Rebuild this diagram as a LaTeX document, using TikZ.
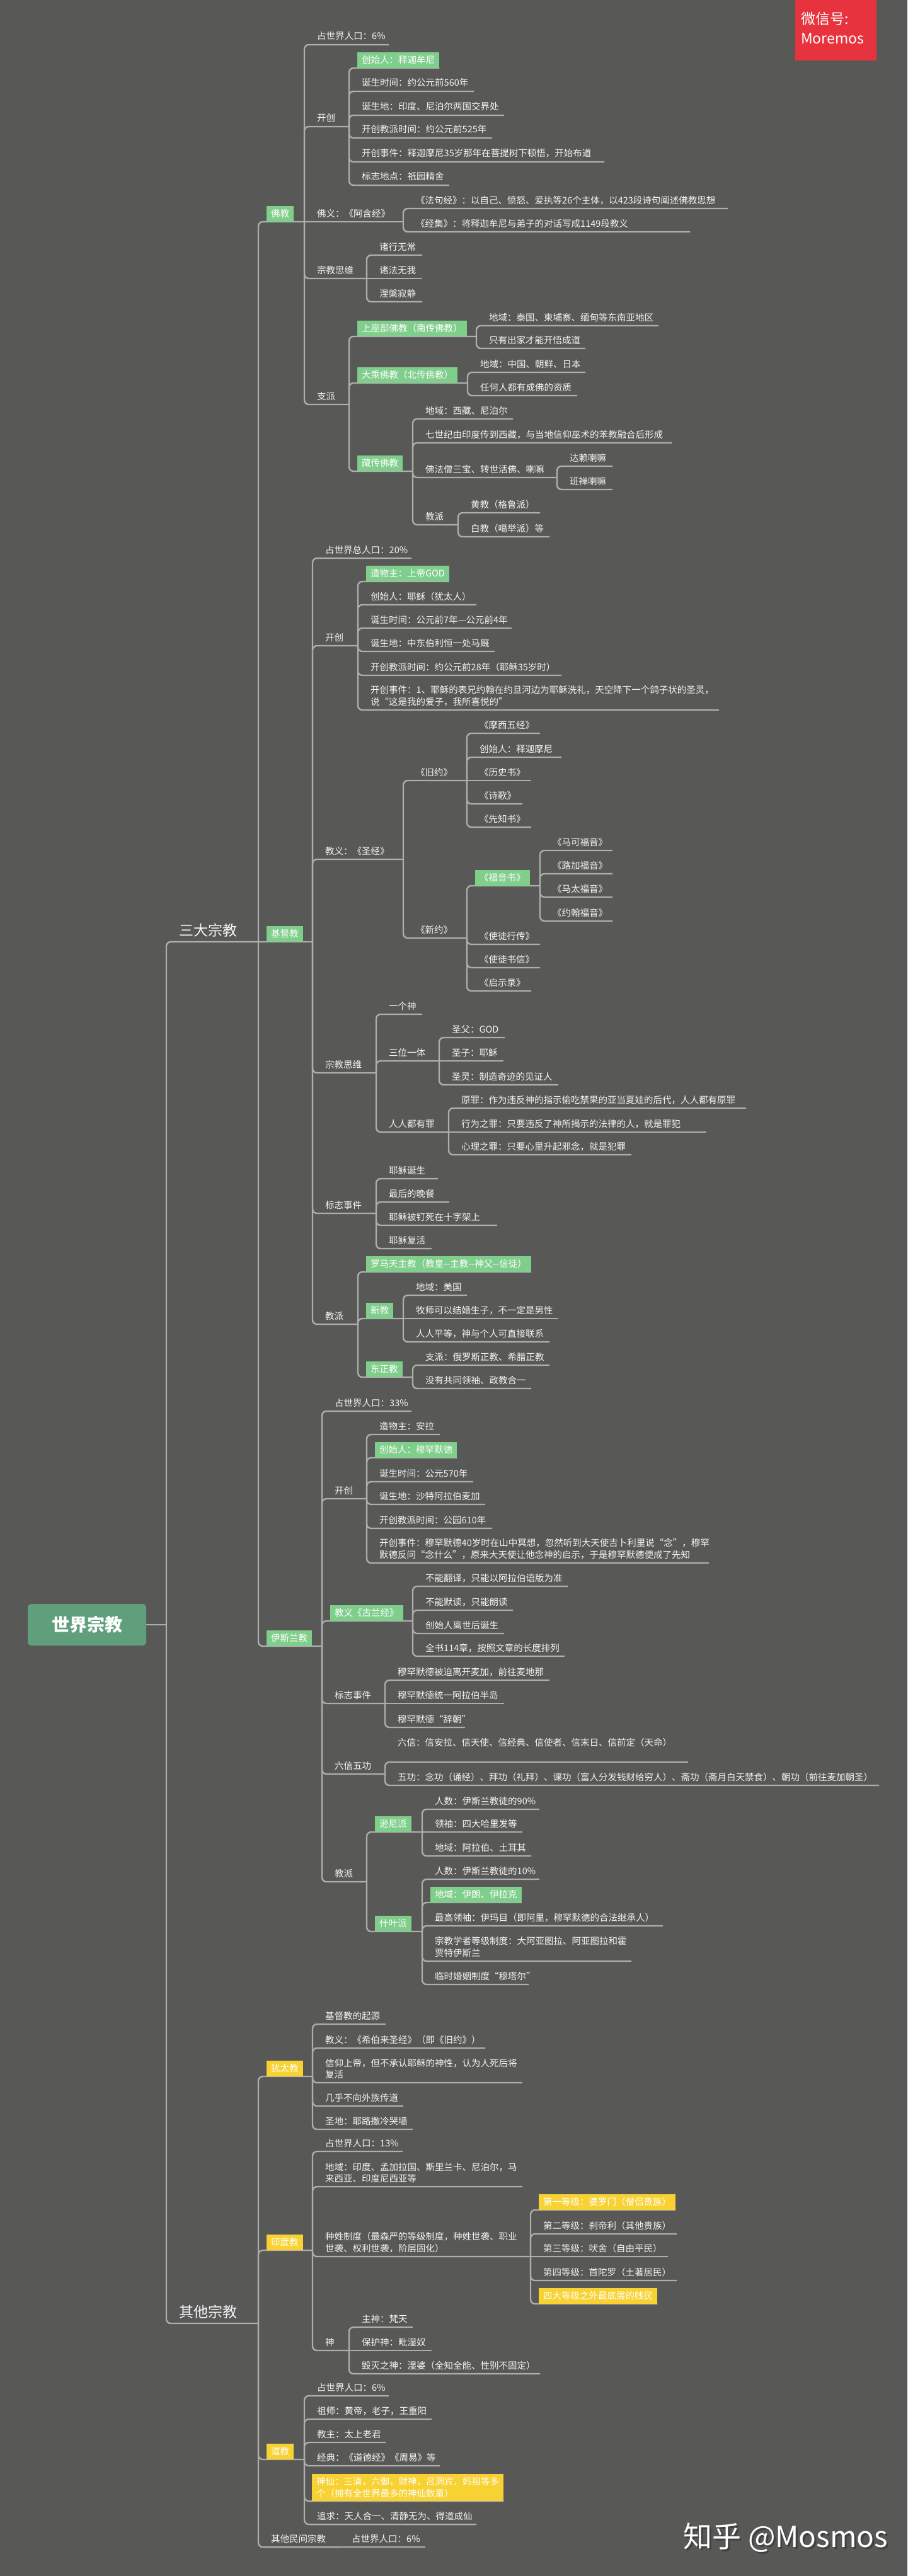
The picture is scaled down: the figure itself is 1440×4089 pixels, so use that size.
\documentclass[tikz,border=0pt]{standalone}
\usepackage{fontspec}
\setmainfont{Noto Sans CJK SC}
\pgfdeclarelayer{bg}
\pgfdeclarelayer{lines}
\pgfsetlayers{bg,lines,main}
\definecolor{bgc}{HTML}{585957}
\definecolor{linec}{HTML}{AEAEAC}
\definecolor{txtc}{HTML}{F4F4F4}
\definecolor{greenc}{HTML}{80CE8B}
\definecolor{yellowc}{HTML}{F7D232}
\definecolor{rootc}{HTML}{5F9F7B}
\definecolor{redc}{HTML}{E7333D}
\tikzset{
  txt/.style={text=txtc, font=\fontsize{14.5}{18.5}\selectfont, inner sep=0pt},
  boxs/.style={txt, text=white, inner xsep=7pt, inner ysep=0pt, minimum height=25pt},
  conn/.style={draw=linec, line width=2.4pt, rounded corners=7pt},
  bigtxt/.style={text=txtc, font=\fontsize{23}{26}\selectfont, inner sep=0pt}
}
\newcommand\tnode[5]{\node[txt,anchor=base west] (#1) at (#2+20,#3-8) {#5};\coordinate (#1-r) at (#4,#3);}
\newcommand\mnode[5]{\node[txt,anchor=south west,align=left] (#1) at (#2+20,#3-6) {#5};\coordinate (#1-r) at (#4,#3);}
\newcommand\bnode[5]{\node[boxs,fill=#4,anchor=south west] (#1) at (#2+13,#3) {#5};\coordinate (#1-r) at (#1.south east);}
\newcommand\bpnode[6]{\node[boxs,fill=#5,anchor=south west] (#1) at (#2+13,#3) {#6};\coordinate (#1-r) at (#4,#3);}
\newcommand\lk[2]{\begin{pgfonlayer}{lines}\draw[conn] (#1-r) |- (#2-r);\end{pgfonlayer}}
\newcommand\lks[2]{\begin{pgfonlayer}{lines}\draw[conn] (#1-r) -- (#2-r);\end{pgfonlayer}}
\begin{document}
\begin{tikzpicture}[x=1pt,y=-1pt]
\useasboundingbox (0,0) rectangle (1440,4089);
\begin{pgfonlayer}{bg}\fill[bgc] (0,0) rectangle (1440,4089);\end{pgfonlayer}

% watermark top
\node[fill=redc, minimum width=129pt, minimum height=96pt, anchor=north west, inner sep=0pt] (wm) at (1262,0) {};
\node[text=white, font=\fontsize{23}{26}\selectfont, anchor=base west, inner sep=0pt] (wm1) at (1271,39) {微信号:};
\node[text=white, font=\fontsize{23}{26}\selectfont, anchor=base west, inner sep=0pt] (wm2) at (1271,70) {Moremos};

% root
\node[fill=rootc, rounded corners=6pt, minimum width=188pt, minimum height=66pt, text=white, font=\fontsize{28}{30}\selectfont\bfseries] (root) at (138,2579) {世界宗教};
\coordinate (rj) at (264,2579);
\node[bigtxt, anchor=base west] (sd) at (284,1485) {三大宗教};
\coordinate (sd-r) at (410,1495);
\node[bigtxt, anchor=base west] (qt) at (284,3678) {其他宗教};
\coordinate (qt-r) at (410,3688);
\begin{pgfonlayer}{lines}
\draw[conn] (root.east) -- (rj);
\draw[conn] (rj) |- (sd-r);
\draw[conn] (rj) |- (qt-r);
\end{pgfonlayer}

% ===== 佛教
\bpnode{fo}{410}{352}{483}{greenc}{佛教}
\tnode{fo1}{483}{71}{617}{占世界人口：6\%}
\tnode{fo2}{483}{201}{554}{开创}
\bnode{fo2a}{554}{108}{greenc}{创始人：释迦牟尼}
\tnode{fo2b}{554}{145}{752}{诞生时间：约公元前560年}
\tnode{fo2c}{554}{183}{800}{诞生地：印度、尼泊尔两国交界处}
\tnode{fo2d}{554}{219}{781}{开创教派时间：约公元前525年}
\tnode{fo2e}{554}{257}{959}{开创事件：释迦摩尼35岁那年在菩提树下顿悟，开始布道}
\tnode{fo2f}{554}{294}{713}{标志地点：祇园精舍}
\tnode{fo3}{483}{352}{640}{佛义：《阿含经》}
\tnode{fo3a}{640}{331}{1155}{《法句经》：以自己、愤怒、爱执等26个主体，以423段诗句阐述佛教思想}
\tnode{fo3b}{640}{368}{1095}{《经集》：将释迦牟尼与弟子的对话写成1149段教义}
\tnode{fo4}{483}{442}{582}{宗教思维}
\tnode{fo4a}{582}{405}{670}{诸行无常}
\tnode{fo4b}{582}{442}{670}{诸法无我}
\tnode{fo4c}{582}{479}{670}{涅槃寂静}
\tnode{fo5}{483}{642}{554}{支派}
\bpnode{fo5a}{554}{534}{756}{greenc}{上座部佛教（南传佛教）}
\tnode{fo5a1}{756}{517}{1045}{地域：泰国、柬埔寨、缅甸等东南亚地区}
\tnode{fo5a2}{756}{553}{929}{只有出家才能开悟成道}
\bpnode{fo5b}{554}{608}{742}{greenc}{大乘佛教（北传佛教）}
\tnode{fo5b1}{742}{591}{929}{地域：中国、朝鲜、日本}
\tnode{fo5b2}{742}{628}{916}{任何人都有成佛的资质}
\bpnode{fo5c}{554}{748}{655}{greenc}{藏传佛教}
\tnode{fo5c1}{655}{665}{814}{地域：西藏、尼泊尔}
\tnode{fo5c2}{655}{703}{1066}{七世纪由印度传到西藏，与当地信仰巫术的苯教融合后形成}
\tnode{fo5c3}{655}{758}{884}{佛法僧三宝、转世活佛、喇嘛}
\tnode{fo5c3a}{884}{740}{972}{达赖喇嘛}
\tnode{fo5c3b}{884}{777}{972}{班禅喇嘛}
\tnode{fo5c4}{655}{833}{727}{教派}
\tnode{fo5c4a}{727}{814}{857}{黄教（格鲁派）}
\tnode{fo5c4b}{727}{852}{872}{白教（噶举派）等}

\lk{sd}{fo}
\lk{fo}{fo1}\lk{fo}{fo2}\lks{fo}{fo3}\lk{fo}{fo4}\lk{fo}{fo5}
\lk{fo2}{fo2a}\lk{fo2}{fo2b}\lk{fo2}{fo2c}\lk{fo2}{fo2d}\lk{fo2}{fo2e}\lk{fo2}{fo2f}
\lk{fo3}{fo3a}\lk{fo3}{fo3b}
\lk{fo4}{fo4a}\lks{fo4}{fo4b}\lk{fo4}{fo4c}
\lk{fo5}{fo5a}\lk{fo5}{fo5b}\lk{fo5}{fo5c}
\lk{fo5a}{fo5a1}\lk{fo5a}{fo5a2}
\lk{fo5b}{fo5b1}\lk{fo5b}{fo5b2}
\lk{fo5c}{fo5c1}\lk{fo5c}{fo5c2}\lk{fo5c}{fo5c3}\lk{fo5c}{fo5c4}
\lk{fo5c3}{fo5c3a}\lk{fo5c3}{fo5c3b}
\lk{fo5c4}{fo5c4a}\lk{fo5c4}{fo5c4b}

% ===== 基督教
\bpnode{jd}{410}{1495}{496}{greenc}{基督教}
\tnode{jd1}{496}{886}{653}{占世界总人口：20\%}
\tnode{jd2}{496}{1025}{568}{开创}
\bnode{jd2a}{568}{923}{greenc}{造物主：上帝GOD}
\tnode{jd2b}{568}{960}{756}{创始人：耶稣（犹太人）}
\tnode{jd2c}{568}{997}{812}{诞生时间：公元前7年—公元前4年}
\tnode{jd2d}{568}{1034}{785}{诞生地：中东伯利恒一处马厩}
\tnode{jd2e}{568}{1072}{891}{开创教派时间：约公元前28年（耶稣35岁时）}
\mnode{jd2f}{568}{1127}{1141}{开创事件：1、耶稣的表兄约翰在约旦河边为耶稣洗礼，天空降下一个鸽子状的圣灵，\\说“这是我的爱子，我所喜悦的”}
\tnode{jd3}{496}{1364}{640}{教义：《圣经》}
\tnode{jd3a}{640}{1239}{741}{《旧约》}
\tnode{jd3a1}{741}{1164}{857}{《摩西五经》}
\tnode{jd3a2}{741}{1202}{891}{创始人：释迦摩尼}
\tnode{jd3a3}{741}{1239}{843}{《历史书》}
\tnode{jd3a4}{741}{1276}{829}{《诗歌》}
\tnode{jd3a5}{741}{1313}{843}{《先知书》}
\tnode{jd3b}{640}{1489}{741}{《新约》}
\bpnode{jd3b1}{741}{1406}{857}{greenc}{《福音书》}
\tnode{jd3b1a}{857}{1350}{972}{《马可福音》}
\tnode{jd3b1b}{857}{1387}{972}{《路加福音》}
\tnode{jd3b1c}{857}{1424}{972}{《马太福音》}
\tnode{jd3b1d}{857}{1462}{972}{《约翰福音》}
\tnode{jd3b2}{741}{1499}{857}{《使徒行传》}
\tnode{jd3b3}{741}{1536}{857}{《使徒书信》}
\tnode{jd3b4}{741}{1573}{843}{《启示录》}
\tnode{jd4}{496}{1703}{597}{宗教思维}
\tnode{jd4a}{597}{1610}{670}{一个神}
\tnode{jd4b}{597}{1684}{697}{三位一体}
\tnode{jd4b1}{697}{1647}{801}{圣父：GOD}
\tnode{jd4b2}{697}{1684}{799}{圣子：耶稣}
\tnode{jd4b3}{697}{1722}{886}{圣灵：制造奇迹的见证人}
\tnode{jd4c}{597}{1797}{712}{人人都有罪}
\tnode{jd4c1}{712}{1759}{1184}{原罪：作为违反神的指示偷吃禁果的亚当夏娃的后代，人人都有原罪}
\tnode{jd4c2}{712}{1797}{1121}{行为之罪：只要违反了神所揭示的法律的人，就是罪犯}
\tnode{jd4c3}{712}{1833}{1002}{心理之罪：只要心里升起邪念，就是犯罪}
\tnode{jd5}{496}{1926}{597}{标志事件}
\tnode{jd5a}{597}{1871}{695}{耶稣诞生}
\tnode{jd5b}{597}{1908}{713}{最后的晚餐}
\tnode{jd5c}{597}{1945}{789}{耶稣被钉死在十字架上}
\tnode{jd5d}{597}{1982}{685}{耶稣复活}
\tnode{jd6}{496}{2102}{568}{教派}
\bnode{jd6a}{568}{2019}{greenc}{罗马天主教（教皇-{}-主教-{}-神父-{}-信徒）}
\bpnode{jd6b}{568}{2093}{640}{greenc}{新教}
\tnode{jd6b1}{640}{2056}{741}{地域：美国}
\tnode{jd6b2}{640}{2093}{886}{牧师可以结婚生子，不一定是男性}
\tnode{jd6b3}{640}{2130}{872}{人人平等，神与个人可直接联系}
\bpnode{jd6c}{568}{2186}{655}{greenc}{东正教}
\tnode{jd6c1}{655}{2167}{872}{支派：俄罗斯正教、希腊正教}
\tnode{jd6c2}{655}{2204}{843}{没有共同领袖、政教合一}

\lks{sd}{jd}
\lk{jd}{jd1}\lk{jd}{jd2}\lk{jd}{jd3}\lk{jd}{jd4}\lk{jd}{jd5}\lk{jd}{jd6}
\lk{jd2}{jd2a}\lk{jd2}{jd2b}\lk{jd2}{jd2c}\lk{jd2}{jd2d}\lk{jd2}{jd2e}\lk{jd2}{jd2f}
\lk{jd3}{jd3a}\lk{jd3}{jd3b}
\lk{jd3a}{jd3a1}\lk{jd3a}{jd3a2}\lks{jd3a}{jd3a3}\lk{jd3a}{jd3a4}\lk{jd3a}{jd3a5}
\lk{jd3b}{jd3b1}\lk{jd3b}{jd3b2}\lk{jd3b}{jd3b3}\lk{jd3b}{jd3b4}
\lk{jd3b1}{jd3b1a}\lk{jd3b1}{jd3b1b}\lk{jd3b1}{jd3b1c}\lk{jd3b1}{jd3b1d}
\lk{jd4}{jd4a}\lk{jd4}{jd4b}\lk{jd4}{jd4c}
\lk{jd4b}{jd4b1}\lks{jd4b}{jd4b2}\lk{jd4b}{jd4b3}
\lk{jd4c}{jd4c1}\lks{jd4c}{jd4c2}\lk{jd4c}{jd4c3}
\lk{jd5}{jd5a}\lk{jd5}{jd5b}\lk{jd5}{jd5c}\lk{jd5}{jd5d}
\lk{jd6}{jd6a}\lk{jd6}{jd6b}\lk{jd6}{jd6c}
\lk{jd6b}{jd6b1}\lks{jd6b}{jd6b2}\lk{jd6b}{jd6b3}
\lk{jd6c}{jd6c1}\lk{jd6c}{jd6c2}

% ===== 伊斯兰教
\bpnode{ys}{410}{2613}{511}{greenc}{伊斯兰教}
\tnode{ys1}{511}{2240}{653}{占世界人口：33\%}
\tnode{ys2}{511}{2379}{582}{开创}
\tnode{ys2a}{582}{2277}{698}{造物主：安拉}
\bnode{ys2b}{582}{2314}{greenc}{创始人：穆罕默德}
\tnode{ys2c}{582}{2352}{751}{诞生时间：公元570年}
\tnode{ys2d}{582}{2388}{770}{诞生地：沙特阿拉伯麦加}
\tnode{ys2e}{582}{2426}{781}{开创教派时间：公园610年}
\mnode{ys2f}{582}{2481}{1125}{开创事件：穆罕默德40岁时在山中冥想，忽然听到大天使吉卜利里说“念”，穆罕\\默德反问“念什么”，原来大天使让他念神的启示，于是穆罕默德便成了先知}
\bpnode{ys3}{511}{2573}{655}{greenc}{教义《古兰经》}
\tnode{ys3a}{655}{2518}{901}{不能翻译，只能以阿拉伯语版为准}
\tnode{ys3b}{655}{2556}{814}{不能默读，只能朗读}
\tnode{ys3c}{655}{2593}{800}{创始人离世后诞生}
\tnode{ys3d}{655}{2629}{896}{全书114章，按照文章的长度排列}
\tnode{ys4}{511}{2704}{611}{标志事件}
\tnode{ys4a}{611}{2667}{872}{穆罕默德被迫离开麦加，前往麦地那}
\tnode{ys4b}{611}{2704}{800}{穆罕默德统一阿拉伯半岛}
\tnode{ys4c}{611}{2742}{738}{穆罕默德“辞朝”}
\tnode{ys5}{511}{2816}{611}{六信五功}
\node[txt,anchor=base west] (ys5a) at (631,2771) {六信：信安拉、信天使、信经典、信使者、信末日、信前定（天命）};
\coordinate (ys5a-r) at (1092,2797);
\tnode{ys5b}{611}{2834}{1395}{五功：念功（诵经）、拜功（礼拜）、课功（富人分发钱财给穷人）、斋功（斋月白天禁食）、朝功（前往麦加朝圣）}
\tnode{ys6}{511}{2987}{582}{教派}
\bpnode{ys6a}{582}{2908}{670}{greenc}{逊尼派}
\tnode{ys6a1}{670}{2872}{856}{人数：伊斯兰教徒的90\%}
\tnode{ys6a2}{670}{2908}{829}{领袖：四大哈里发等}
\tnode{ys6a3}{670}{2946}{843}{地域：阿拉伯、土耳其}
\bpnode{ys6b}{582}{3066}{670}{greenc}{什叶派}
\tnode{ys6b1}{670}{2983}{856}{人数：伊斯兰教徒的10\%}
\bnode{ys6b2}{670}{3020}{greenc}{地域：伊朗、伊拉克}
\tnode{ys6b3}{670}{3057}{1052}{最高领袖：伊玛目（即阿里，穆罕默德的合法继承人）}
\mnode{ys6b4}{670}{3113}{1002}{宗教学者等级制度：大阿亚图拉、阿亚图拉和霍\\贾特伊斯兰}
\tnode{ys6b5}{670}{3150}{839}{临时婚姻制度“穆塔尔”}

\lk{sd}{ys}
\lk{ys}{ys1}\lk{ys}{ys2}\lk{ys}{ys3}\lk{ys}{ys4}\lk{ys}{ys5}\lk{ys}{ys6}
\lk{ys2}{ys2a}\lk{ys2}{ys2b}\lk{ys2}{ys2c}\lk{ys2}{ys2d}\lk{ys2}{ys2e}\lk{ys2}{ys2f}
\lk{ys3}{ys3a}\lk{ys3}{ys3b}\lk{ys3}{ys3c}\lk{ys3}{ys3d}
\lk{ys4}{ys4a}\lks{ys4}{ys4b}\lk{ys4}{ys4c}
\lk{ys5}{ys5a}\lk{ys5}{ys5b}
\lk{ys6}{ys6a}\lk{ys6}{ys6b}
\lk{ys6a}{ys6a1}\lks{ys6a}{ys6a2}\lk{ys6a}{ys6a3}
\lk{ys6b}{ys6b1}\lk{ys6b}{ys6b2}\lk{ys6b}{ys6b3}\lk{ys6b}{ys6b4}\lk{ys6b}{ys6b5}

% ===== 其他宗教
\bpnode{yt}{410}{3296}{496}{yellowc}{犹太教}
\tnode{yt1}{496}{3213}{612}{基督教的起源}
\tnode{yt2}{496}{3251}{770}{教义：《希伯来圣经》（即《旧约》）}
\mnode{yt3}{496}{3306}{829}{信仰上帝，但不承认耶稣的神性，认为人死后将\\复活}
\tnode{yt4}{496}{3343}{640}{几乎不向外族传道}
\tnode{yt5}{496}{3380}{655}{圣地：耶路撒冷哭墙}
\bpnode{yd}{410}{3572}{496}{yellowc}{印度教}
\tnode{yd1}{496}{3415}{639}{占世界人口：13\%}
\mnode{yd2}{496}{3471}{829}{地域：印度、孟加拉国、斯里兰卡、尼泊尔，马\\来西亚、印度尼西亚等}
\mnode{yd3}{496}{3582}{842}{种姓制度（最森严的等级制度，种姓世袭、职业\\世袭、权利世袭，阶层固化）}
\bnode{yd3a}{842}{3508}{yellowc}{第一等级：婆罗门（僧侣贵族）}
\tnode{yd3b}{842}{3546}{1074}{第二等级：刹帝利（其他贵族）}
\tnode{yd3c}{842}{3582}{1060}{第三等级：吠舍（自由平民）}
\tnode{yd3d}{842}{3620}{1074}{第四等级：首陀罗（土著居民）}
\bnode{yd3e}{842}{3657}{yellowc}{四大等级之外最底层的贱民}
\tnode{yd4}{496}{3731}{554}{神}
\tnode{yd4a}{554}{3694}{655}{主神：梵天}
\tnode{yd4b}{554}{3731}{685}{保护神：毗湿奴}
\tnode{yd4c}{554}{3768}{857}{毁灭之神：湿婆（全知全能、性别不固定）}
\bpnode{dj}{410}{3904}{483}{yellowc}{道教}
\tnode{dj1}{483}{3803}{617}{占世界人口：6\%}
\tnode{dj2}{483}{3840}{685}{祖师：黄帝，老子，王重阳}
\tnode{dj3}{483}{3877}{612}{教主：太上老君}
\tnode{dj4}{483}{3914}{698}{经典：《道德经》《周易》等}
\node[boxs, fill=yellowc, anchor=south west, align=left, minimum height=43pt] (dj5) at (495,3970) {神仙：三清，六御，财神，吕洞宾，妈祖等多\\个（拥有全世界最多的神仙数量）};
\coordinate (dj5-r) at (dj5.south east);
\tnode{dj6}{483}{4007}{756}{追求：天人合一、清静无为、得道成仙}
\tnode{qm}{410}{4043}{538}{其他民间宗教}
\tnode{qm1}{538}{4043}{675}{占世界人口：6\%}

\lk{qt}{yt}\lk{qt}{yd}\lk{qt}{dj}\lk{qt}{qm}
\lk{yt}{yt1}\lk{yt}{yt2}\lk{yt}{yt3}\lk{yt}{yt4}\lk{yt}{yt5}
\lk{yd}{yd1}\lk{yd}{yd2}\lk{yd}{yd3}\lk{yd}{yd4}
\lk{yd3}{yd3a}\lk{yd3}{yd3b}\lks{yd3}{yd3c}\lk{yd3}{yd3d}\lk{yd3}{yd3e}
\lk{yd4}{yd4a}\lks{yd4}{yd4b}\lk{yd4}{yd4c}
\lk{dj}{dj1}\lk{dj}{dj2}\lk{dj}{dj3}\lk{dj}{dj4}\lk{dj}{dj5}\lk{dj}{dj6}
\lks{qm}{qm1}

% watermark bottom
\node[text=black!75, font=\fontsize{46}{50}\selectfont, inner sep=0pt] (zhs) at (1250,4031) {知乎 @Mosmos};
\node[text=white, font=\fontsize{46}{50}\selectfont, inner sep=0pt] (zh) at (1247,4028) {知乎 @Mosmos};
\end{tikzpicture}
\end{document}
